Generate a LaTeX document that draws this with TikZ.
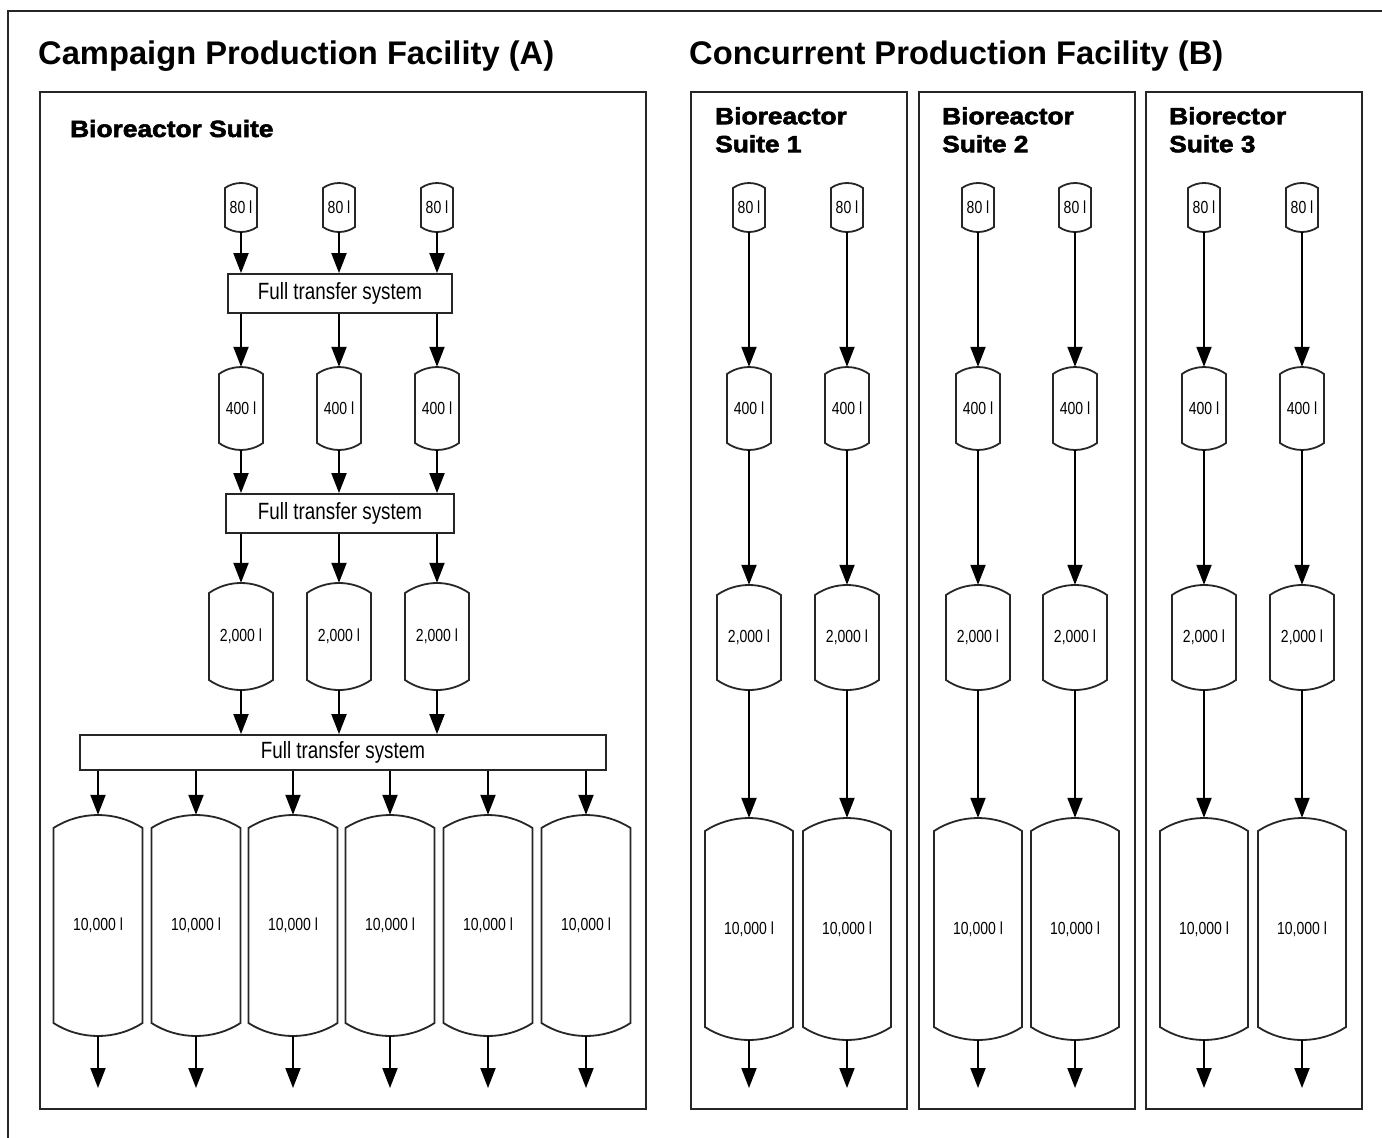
\documentclass[tikz,border=0pt]{standalone}
\usepackage{fontspec}
\setmainfont{Liberation Sans}
\newfontfamily\narrowfont{Liberation Sans}[FakeStretch=0.8]
\newfontfamily\heavyfont{Liberation Sans Bold}[FakeStretch=1.12,FakeBold=2.5]
\usetikzlibrary{arrows.meta}

\tikzset{
  frame/.style={draw=black!85, line width=2pt},
  vesselline/.style={draw=black!85, line width=1.8pt, fill=white},
  vesselnode/.style={inner sep=0pt, font=\narrowfont\fontsize{17.5}{20}\selectfont},
  transfer/.style={draw=black!85, line width=1.8pt, fill=white, inner sep=0pt,
    font=\narrowfont\fontsize{23.5}{27}\selectfont},
  flow/.style={draw=black, line width=2pt, -{Triangle[length=20pt,width=15pt]}},
  title/.style={anchor=base west, inner sep=0pt, font=\bfseries\fontsize{32.7}{38}\selectfont},
  suite/.style={anchor=north west, inner sep=0pt, align=left,
    font=\heavyfont\fontsize{23.5}{28}\selectfont},
}

% vessel: name, centre x, top y, bottom y, width, dome depth, label
\newcommand\drawvessel[7]{%
  \draw[vesselline] ({#2-#5/2},{#3+#6})
    .. controls ({#2-#5/5},{#3-#6/3}) and ({#2+#5/5},{#3-#6/3}) .. ({#2+#5/2},{#3+#6})
    -- ({#2+#5/2},{#4-#6})
    .. controls ({#2+#5/5},{#4+#6/3}) and ({#2-#5/5},{#4+#6/3}) .. ({#2-#5/2},{#4-#6})
    -- cycle;
  \node[vesselnode, minimum width=#5pt, minimum height={#4pt-#3pt}] (#1) at ({#2},{(#3+#4)/2}) {#7};
}

\begin{document}
\begin{tikzpicture}[x=1pt, y=-1pt]
\useasboundingbox (0,0) rectangle (1382,1138);
\fill[white] (0,0) rectangle (1382,1138);

% outer frame
\draw[draw=black!85, line width=1.5pt] (1382,11) -- (8,11) -- (8,1138);

% titles
\node[title] (titleA) at (38,64) {Campaign Production Facility (A)};
\node[title] (titleB) at (689,64) {Concurrent Production Facility (B)};

% panel frames
\draw[frame] (40,92) rectangle (646,1109);
\draw[frame] (691,92) rectangle (907,1109);
\draw[frame] (919,92) rectangle (1135,1109);
\draw[frame] (1146,92) rectangle (1362,1109);

% suite labels
\node[suite, anchor=base west] (suiteA) at (70,137) {Bioreactor Suite};
\node[suite] (suiteB1) at (715,107) {Bioreactor\\Suite 1};
\node[suite] (suiteB2) at (942,107) {Bioreactor\\Suite 2};
\node[suite] (suiteB3) at (1169,107) {Biorector\\Suite 3};

% ---- campaign facility ----
\node[transfer, minimum width=224pt, minimum height=39pt] (t1) at (340,293.5) {Full transfer system};
\node[transfer, minimum width=228pt, minimum height=39pt] (t2) at (340,513.5) {Full transfer system};
\node[transfer, minimum width=526pt, minimum height=35pt] (t3) at (343,752.5) {Full transfer system};

\foreach \i/\x in {a/241,b/339,c/437} {
  \drawvessel{sA\i}{\x}{183}{232}{32}{5}{80 l}
  \drawvessel{mA\i}{\x}{367}{450}{44}{7}{400 l}
  \drawvessel{lA\i}{\x}{583}{690}{64}{10}{2,000 l}
  \draw[flow] (sA\i.south) -- (t1.north -| sA\i.south);
  \draw[flow] (t1.south -| mA\i.north) -- (mA\i.north);
  \draw[flow] (mA\i.south) -- (t2.north -| mA\i.south);
  \draw[flow] (t2.south -| lA\i.north) -- (lA\i.north);
  \draw[flow] (lA\i.south) -- (t3.north -| lA\i.south);
}

\foreach \i/\x in {1/98,2/196,3/293,4/390,5/488,6/586} {
  \drawvessel{xA\i}{\x}{815}{1036}{89}{13}{10,000 l}
  \draw[flow] (t3.south -| xA\i.north) -- (xA\i.north);
  \coordinate (oA\i) at (\x,1088);
  \draw[flow] (xA\i.south) -- (oA\i);
}

% ---- concurrent facility ----
\foreach \i/\x in {1/749,2/847,3/978,4/1075,5/1204,6/1302} {
  \drawvessel{sB\i}{\x}{183}{232}{32}{5}{80 l}
  \drawvessel{mB\i}{\x}{367}{450}{44}{7}{400 l}
  \drawvessel{lB\i}{\x}{585}{690}{64}{10}{2,000 l}
  \drawvessel{xB\i}{\x}{818}{1040}{88}{13}{10,000 l}
  \draw[flow] (sB\i.south) -- (mB\i.north);
  \draw[flow] (mB\i.south) -- (lB\i.north);
  \draw[flow] (lB\i.south) -- (xB\i.north);
  \coordinate (oB\i) at (\x,1088);
  \draw[flow] (xB\i.south) -- (oB\i);
}
\end{tikzpicture}
\end{document}
